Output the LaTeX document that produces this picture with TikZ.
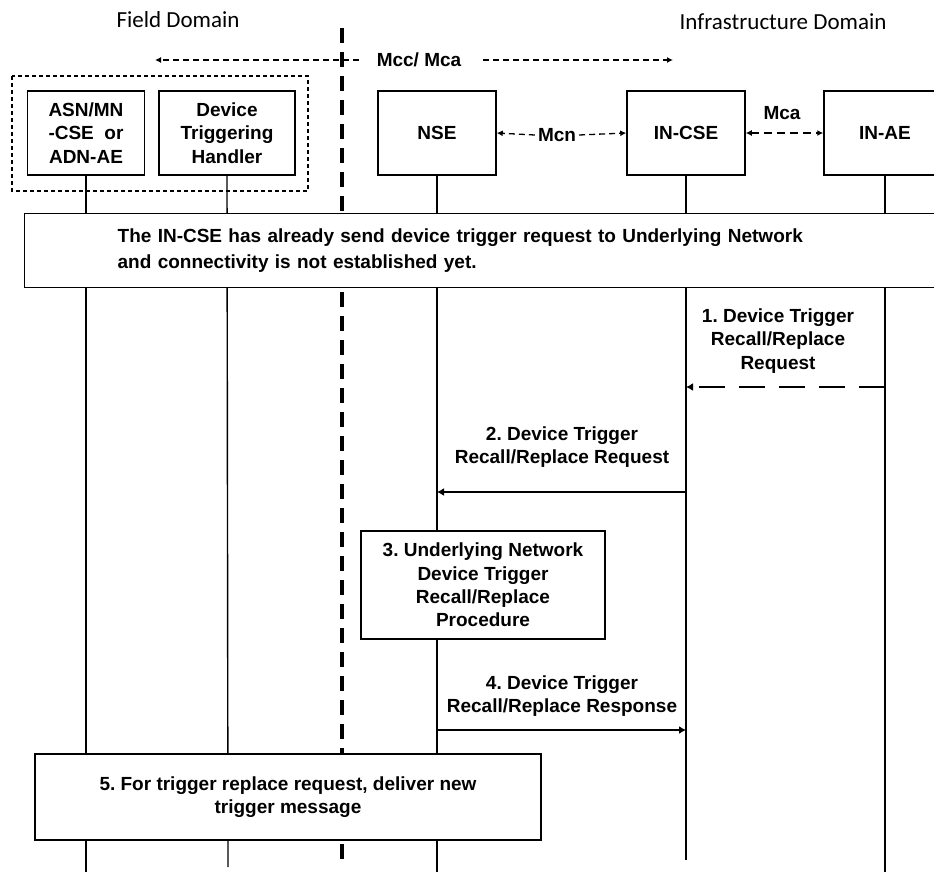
\documentclass[tikz,border=0pt]{standalone}
\usepackage{fontspec}
\setmainfont{Liberation Sans}
\newfontfamily\domfont{Carlito}
\usepackage{tikz}
\usetikzlibrary{arrows.meta, positioning, calc}
\frenchspacing

\begin{document}
\begin{tikzpicture}[x=1pt, y=-1pt,
  lbl/.style={font=\fontsize{19}{23.3}\selectfont\bfseries, align=center, inner sep=0pt},
  entity/.style={lbl, draw, line width=1.5pt, fill=white, minimum height=84pt},
  stepbox/.style={lbl, draw, line width=1.3pt, fill=white},
  lifeline/.style={line width=1.4pt},
  iface/.style={line width=1.3pt, dash pattern=on 6pt off 4pt, -{Latex[length=6pt,width=6pt]}},
  msg/.style={line width=2.6pt, -{Latex[length=7pt,width=8pt]}}]
\useasboundingbox (0,0) rectangle (934,872);

% Domains
\node[font=\domfont\fontsize{23}{27}\selectfont] (field) at (178,20) {Field Domain};
\node[font=\domfont\fontsize{23}{27}\selectfont] (infra) at (783,22) {Infrastructure Domain};
\coordinate (bordertop) at (342,28);
\coordinate (borderbot) at (342,862);

% Mcc/Mca reference point
\node[lbl] (mcc) at (419,60) {Mcc/ Mca};
\coordinate (fieldend) at (155,60);
\coordinate (infraend) at (673,60);
\draw[iface] ([xshift=-18pt]mcc.west) -- (fieldend);
\draw[iface] ([xshift=22pt]mcc.east) -- (infraend);

% Entities
\draw[line width=1.2pt, dash pattern=on 4pt off 3pt] (12,76) rectangle (308,191);
\node[entity, minimum width=117pt] (asn) at (86,133) {ASN/MN\\-CSE~~or\\ADN-AE};
\node[entity, minimum width=136pt] (dth) at (227,133) {Device\\Triggering\\Handler};
\node[entity, minimum width=118pt] (nse) at (437,133) {NSE};
\node[entity, minimum width=118pt] (incse) at (686,133) {IN-CSE};
\node[entity, minimum width=122pt] (inae) at (885,133) {IN-AE};

% Reference points between entities
\node[lbl, inner sep=3pt] (mcn) at (557,135) {Mcn};
\draw[iface] (mcn.west) -- (nse.east);
\draw[iface] (mcn.east) -- (incse.west);
\draw[iface, line width=1.6pt, dash pattern=on 8pt off 5pt, {Latex[length=6pt,width=6pt]}-{Latex[length=6pt,width=6pt]}] (incse.east) -- (inae.west);
\node[lbl] (mca) at (782,113) {Mca};

% Lifelines
\coordinate (asnend) at (88,872);
\coordinate (dthend) at (228,867);
\coordinate (nseend) at (437,872);
\coordinate (incseend) at (686,860);
\coordinate (inaeend) at (885,872);
\draw[lifeline] (asn.south) -- (asn.south |- asnend);
\draw[lifeline] (dth.south) -- (dthend);
\draw[lifeline] (nse.south) -- (nseend);
\draw[lifeline] (incse.south) -- (incseend);
\draw[lifeline] (inae.south) -- (inaeend);
\draw[line width=4pt, dash pattern=on 15pt off 9pt] (bordertop) -- (borderbot);

% Precondition
\node[stepbox, font=\fontsize{19}{26}\selectfont\bfseries, anchor=north west, align=left,
  minimum height=74pt, text width=754pt, inner xsep=93pt] (pre) at (24,213)
  {The IN-CSE has already send device trigger request to Underlying Network\\and connectivity is not established yet.};

% 1
\node[lbl] (m1) at (778,341) {1. Device Trigger\\Recall/Replace\\Request};
\coordinate (y1) at (0,387);
\draw[msg, dash pattern=on 26pt off 14pt] (inae |- y1) -- (incse |- y1);

% 2
\node[lbl] (m2) at (562,447) {2. Device Trigger\\Recall/Replace Request};
\coordinate (y2) at (0,492);
\draw[msg] (incse |- y2) -- (nse |- y2);

% 3
\node[stepbox, minimum width=244pt, minimum height=108pt] (s3) at (483,585)
  {3. Underlying Network\\Device Trigger\\Recall/Replace\\Procedure};

% 4
\node[lbl] (m4) at (562,696) {4. Device Trigger\\Recall/Replace Response};
\coordinate (y4) at (0,730);
\draw[msg] (nse |- y4) -- (incse |- y4);

% 5
\node[stepbox, minimum width=506pt, minimum height=86pt] (s5) at (288,797)
  {5. For trigger replace request, deliver new\\trigger message};
\end{tikzpicture}
\end{document}
